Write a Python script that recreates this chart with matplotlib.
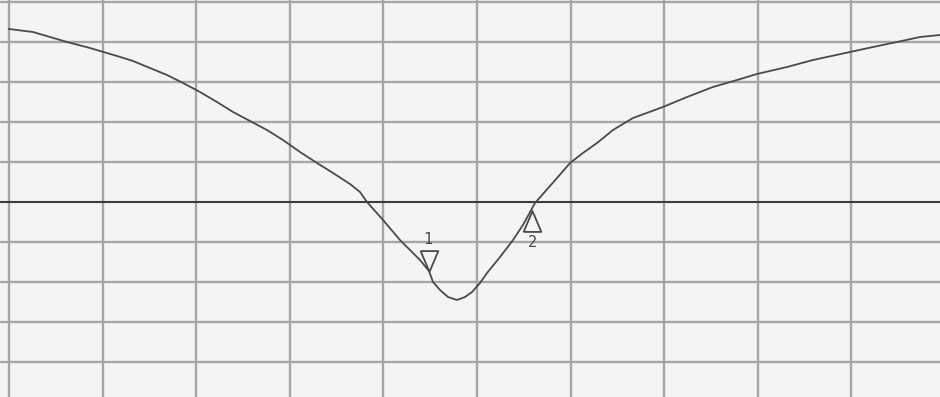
import numpy as np
import matplotlib
matplotlib.use("Agg")
import matplotlib.pyplot as plt
from matplotlib.transforms import offset_copy

freq_div = [0.0, 0.256, 0.438, 0.620, 0.865, 1.154, 1.325, 1.506, 1.688, 1.859,
            2.041, 2.222, 2.393, 2.575, 2.756, 2.927, 3.109, 3.291, 3.462, 3.643,
            3.750, 3.825, 3.996, 4.177, 4.391, 4.487, 4.530, 4.605, 4.690, 4.786,
            4.872, 4.947, 5.032, 5.107, 5.246, 5.385, 5.491, 5.620, 5.855, 5.994,
            6.132, 6.282, 6.453, 6.667, 6.987, 7.244, 7.521, 7.778, 7.991, 8.312,
            8.590, 8.985, 9.231, 9.487, 9.733, 9.947]
mag_div = [4.325, 4.25, 4.125, 4.0, 3.85, 3.65, 3.525, 3.35, 3.175, 2.975,
           2.75, 2.5, 2.25, 2.025, 1.8, 1.55, 1.25, 0.975, 0.725, 0.45,
           0.25, 0.0, -0.45, -0.95, -1.45, -1.725, -2.0, -2.2, -2.375, -2.45,
           -2.375, -2.25, -2.025, -1.775, -1.375, -0.95, -0.575, -0.025, 0.6, 0.975,
           1.225, 1.475, 1.8, 2.1, 2.375, 2.625, 2.875, 3.05, 3.2, 3.375,
           3.55, 3.75, 3.875, 4.0, 4.125, 4.175]

marker_freq = [4.487, 5.588]
marker_labels = ["1", "2"]

x_divs = list(range(0, 11))
y_divs = list(range(-5, 6))

fig = plt.figure(figsize=(9.4, 3.97), dpi=100)
fig.patch.set_facecolor("#f4f4f4")
ax = fig.add_axes([0, 0, 1, 1])
ax.set_facecolor("#f4f4f4")
ax.set_xlim(-9 / 93.6, 931 / 93.6)
ax.set_ylim(-195 / 40, 202 / 40)
ax.set_axis_off()

grid_col = "#a6a6a6"
for xv in x_divs:
    ax.axvline(xv, color=grid_col, lw=1.7, zorder=1)
for yv in y_divs:
    if yv == 0:
        continue
    ax.axhline(yv, color=grid_col, lw=1.7, zorder=1)
ax.axhline(0, color="#3c3c3c", lw=1.5, zorder=2)

ax.plot(freq_div, mag_div, color="#4a4a4a", lw=1.3, zorder=3,
        solid_joinstyle="round")

tri_down = [(-0.85, 1.0), (0.85, 1.0), (0.0, -1.0), (-0.85, 1.0)]
tri_up = [(-0.85, -1.0), (0.85, -1.0), (0.0, 1.0), (-0.85, -1.0)]

marker_y = np.interp(marker_freq, freq_div, mag_div)
t_up = offset_copy(ax.transData, fig=fig, x=0, y=7.5, units="points")
t_dn = offset_copy(ax.transData, fig=fig, x=0, y=-9.0, units="points")
ax.plot([marker_freq[0]], [marker_y[0]], marker=tri_down, ms=15, mfc="none",
        mec="#4a4a4a", mew=1.3, transform=t_up, zorder=4)
ax.plot([marker_freq[1]], [marker_y[1]], marker=tri_up, ms=15, mfc="none",
        mec="#4a4a4a", mew=1.3, transform=t_dn, zorder=4)

t_lab1 = offset_copy(ax.transData, fig=fig, x=-1, y=22.5, units="points")
t_lab2 = offset_copy(ax.transData, fig=fig, x=0, y=-24.5, units="points")
ax.text(marker_freq[0], marker_y[0], marker_labels[0], transform=t_lab1,
        ha="center", va="center", fontsize=11, color="#4a4a4a",
        family="DejaVu Sans Mono")
ax.text(marker_freq[1], marker_y[1], marker_labels[1], transform=t_lab2,
        ha="center", va="center", fontsize=11, color="#4a4a4a",
        family="DejaVu Sans Mono")

fig.savefig("out.png", dpi=100, facecolor=fig.get_facecolor())
